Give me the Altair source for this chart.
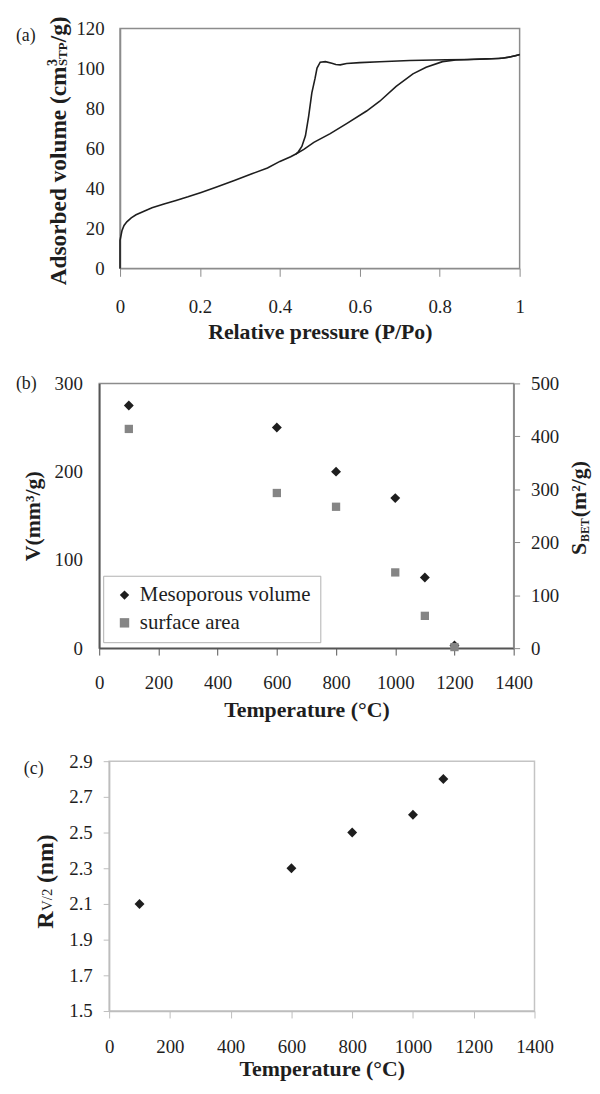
import altair as alt
import pandas as pd

FONT = "Liberation Serif"
INK = "#1e1e1e"
GREY_PT = "#858585"

# ---------------- (a) adsorption / desorption isotherm ----------------
ads_p = [0.000, 0.000, 0.002, 0.005, 0.010, 0.017, 0.028, 0.040, 0.060, 0.080,
         0.110, 0.140, 0.170, 0.203, 0.240, 0.286, 0.330, 0.369, 0.400, 0.427,
         0.440, 0.460, 0.485, 0.526, 0.567, 0.617, 0.650, 0.691, 0.733, 0.766,
         0.807, 0.840, 0.880, 0.920, 0.960, 0.990, 1.000]
ads_v = [0.0, 14.0, 16.0, 19.0, 21.5, 23.3, 25.3, 26.8, 28.6, 30.3,
         32.2, 34.0, 35.8, 38.0, 40.6, 44.0, 47.3, 50.2, 53.5, 55.8,
         57.2, 59.5, 63.0, 67.4, 72.4, 78.7, 83.6, 91.0, 97.3, 100.6,
         103.4, 104.2, 104.5, 104.7, 105.2, 106.3, 107.0]
des_p = [1.000, 0.996, 0.973, 0.950, 0.915, 0.870, 0.816, 0.725, 0.650, 0.600,
         0.567, 0.551, 0.540, 0.530, 0.514, 0.501, 0.493, 0.488, 0.480, 0.472,
         0.464, 0.455, 0.445, 0.440]
des_v = [107.0, 106.7, 105.6, 105.0, 104.8, 104.5, 104.3, 104.0, 103.3, 102.9,
         102.5, 101.8, 102.0, 102.6, 103.4, 103.1, 100.2, 95.0, 87.8, 76.0,
         66.3, 61.0, 58.0, 57.2]
p_ticks = [0, 0.2, 0.4, 0.6, 0.8, 1]
va_ticks = [0, 20, 40, 60, 80, 100, 120]

# ---------------- (b) mesoporous volume & BET surface ----------------
temp_b = [100, 600, 800, 1000, 1100, 1200]
meso_vol = [275, 250, 200, 170, 80, 3]
surf_area = [414, 293, 267, 143, 61, 2]
series_names = ["Mesoporous volume", "surface area"]
t_ticks = [0, 200, 400, 600, 800, 1000, 1200, 1400]
vb_ticks = [0, 100, 200, 300]
sb_ticks = [0, 100, 200, 300, 400, 500]

# ---------------- (c) pore radius ----------------
temp_c = [100, 600, 800, 1000, 1100]
rv2 = [2.1, 2.3, 2.5, 2.6, 2.8]
rc_ticks = [1.5, 1.7, 1.9, 2.1, 2.3, 2.5, 2.7, 2.9]


def txt(s, x, y, size, weight="normal", angle=0, baseline="alphabetic",
        align="left", opacity=1.0, color=INK):
    return alt.Chart(pd.DataFrame({"t": [s]})).mark_text(
        font=FONT, fontSize=size, fontWeight=weight, angle=angle,
        baseline=baseline, align=align, color=color, opacity=opacity
    ).encode(text="t:N", x=alt.value(x), y=alt.value(y))


def spacer():
    return alt.Chart(pd.DataFrame({"t": [""]})).mark_text(opacity=0, fontSize=1).encode(
        text="t:N", x=alt.value(0), y=alt.value(0)
    ).properties(width=1, height=1,
                 view=alt.ViewBackground(stroke="transparent", fill="transparent"))


# ---------- panel (a) ----------
WA, HA = 403, 242
dfa = pd.DataFrame({
    "p": ads_p + des_p,
    "v": ads_v + des_v,
    "branch": ["adsorption"] * len(ads_p) + ["desorption"] * len(des_p),
    "i": list(range(len(ads_p))) + list(range(len(des_p))),
})
line_a = alt.Chart(dfa).mark_line(color=INK, strokeWidth=1.6).encode(
    x=alt.X("p:Q", scale=alt.Scale(domain=[0, 1], nice=False),
            axis=alt.Axis(values=p_ticks, format="~g", title="Relative pressure (P/Po)",
                          tickSize=8, tickColor="#8c8c8c", domainColor="#8c8c8c",
                          domainWidth=1.5, labelPadding=22, titlePadding=5,
                          labelOverlap=False, labelFlush=False)),
    y=alt.Y("v:Q", scale=alt.Scale(domain=[0, 120], nice=False),
            axis=alt.Axis(values=va_ticks, title=None, ticks=False, labelPadding=16,
                          domainColor="#8c8c8c", domainWidth=1.5, labelOverlap=False)),
    detail="branch:N",
    order="i:Q",
)
panel_a = alt.layer(
    line_a,
    txt("(a)", -105, 13, 18),
    txt("Adsorbed volume (cm", -55, 259, 23.5, "bold", 270),
    txt("3", -64, 38, 14, "bold", 270),
    txt("STP", -53, 38, 13, "bold", 270),
    txt("/g)", -55, 14, 23.5, "bold", 270),
).properties(width=WA, height=HA,
             view=alt.ViewBackground(stroke="#8c8c8c", strokeWidth=1.5))

# ---------- panel (b) ----------
WB, HB = 418, 267
dfb = pd.DataFrame({
    "T": temp_b + temp_b,
    "val": meso_vol + surf_area,
    "series": [series_names[0]] * len(temp_b) + [series_names[1]] * len(temp_b),
})
leg = alt.Legend(title=None, orient="none", legendX=4, legendY=194,
                 fillColor="white", strokeColor="#b0b0b0", padding=9,
                 labelFont=FONT, labelFontSize=21, labelColor=INK, labelLimit=400,
                 symbolSize=90, symbolStrokeWidth=0, symbolOffset=2,
                 labelOffset=5, rowPadding=6)
shape_enc = alt.Shape("series:N", scale=alt.Scale(domain=series_names, range=["diamond", "square"]), legend=leg)
color_enc = alt.Color("series:N", scale=alt.Scale(domain=series_names, range=[INK, GREY_PT]), legend=leg)
xb = alt.X("T:Q", scale=alt.Scale(domain=[0, 1400], nice=False),
           axis=alt.Axis(values=t_ticks, format="d", title="Temperature (°C)", tickSize=7,
                         tickColor="#555555", domainColor="#555555", domainWidth=1.8,
                         labelPadding=19, titlePadding=7, labelOverlap=False,
                         labelFlush=False))
base_b = alt.Chart(dfb).encode(x=xb, shape=shape_enc, color=color_enc)
meso = base_b.transform_filter(alt.datum.series == series_names[0]).mark_point(
    filled=True, opacity=1, size=100).encode(
    y=alt.Y("val:Q", scale=alt.Scale(domain=[0, 300], nice=False),
            axis=alt.Axis(values=vb_ticks, title="V(mm³/g)", ticks=False, labelPadding=17,
                          domainColor="#555555", domainWidth=1.8, titlePadding=10,
                          labelOverlap=False)))
surf = base_b.transform_filter(alt.datum.series == series_names[1]).mark_point(
    filled=True, opacity=1, size=70).encode(
    y=alt.Y("val:Q", scale=alt.Scale(domain=[0, 500], nice=False),
            axis=alt.Axis(values=sb_ticks, orient="right", title=None, tickSize=6,
                          tickColor="#8c8c8c", domainColor="#8c8c8c", domainWidth=1.5,
                          labelPadding=11, labelOverlap=False)))
panel_b = alt.layer(
    meso, surf,
    txt("(b)", -84, 6, 18),
    txt("S", 491, 173, 22, "bold", 270),
    txt("BET", 494, 160, 12, "bold", 270),
    txt("(m²/g)", 491, 135, 22, "bold", 270),
).resolve_scale(y="independent").properties(
    width=WB, height=HB, view=alt.ViewBackground(stroke="#8c8c8c", strokeWidth=1.5))

# ---------- panel (c) ----------
WC, HC = 429, 252
dfc = pd.DataFrame({"T": temp_c, "r": rv2})
pts_c = alt.Chart(dfc).mark_point(filled=True, opacity=1, size=100, shape="diamond", color=INK).encode(
    x=alt.X("T:Q", scale=alt.Scale(domain=[0, 1400], nice=False),
            axis=alt.Axis(values=t_ticks, format="d", title="Temperature (°C)", tickSize=7,
                          tickColor="#bdbdbd", domainColor="#bdbdbd", domainWidth=1.5,
                          labelPadding=20, titlePadding=2, labelOverlap=False,
                          labelFlush=False)),
    y=alt.Y("r:Q", scale=alt.Scale(domain=[1.5, 2.9], nice=False, zero=False),
            axis=alt.Axis(values=rc_ticks, format=".1f", title=None, tickSize=6,
                          tickColor="#bdbdbd", domainColor="#bdbdbd", domainWidth=1.5,
                          labelPadding=11, labelOverlap=False)),
)
panel_c = alt.layer(
    pts_c,
    txt("(c)", -86, 13, 18),
    txt("(c)", -94, 13, 18, opacity=0),
    txt("R", -57, 169, 24, "bold", 270),
    txt("V/2", -58, 151, 15, "normal", 270),
    txt("(nm)", -57, 123, 24, "bold", 270),
).properties(width=WC, height=HC,
             view=alt.ViewBackground(stroke="#c4c4c4", strokeWidth=1.5))


def row(panel):
    return alt.hconcat(spacer(), panel, spacing=0).resolve_scale(
        color="independent", shape="independent"
    ).resolve_legend(color="independent", shape="independent")


chart = alt.vconcat(row(panel_a), row(panel_b), row(panel_c), spacing=30).resolve_scale(
    color="independent", shape="independent"
).resolve_legend(color="independent", shape="independent").properties(
    padding={"left": 4, "top": 3, "right": 0, "bottom": 0},
).configure_axis(
    labelFont=FONT, titleFont=FONT, labelFontSize=19, titleFontSize=22,
    titleFontWeight="bold", labelColor=INK, titleColor=INK, grid=False,
).configure_view(stroke="#8c8c8c")

chart.save("out.html", embed_options={"renderer": "svg", "actions": False})
